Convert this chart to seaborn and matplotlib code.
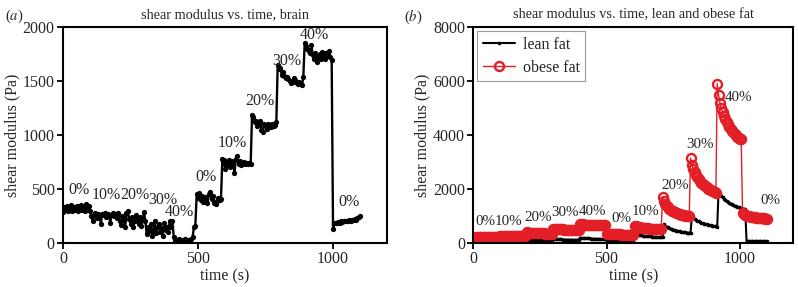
import numpy as np
import pandas as pd
import matplotlib
matplotlib.use("Agg")
import matplotlib.pyplot as plt
import seaborn as sns

# ─── Data (5 s sampling) ─────────────────────────────────────────────────────
time_s = np.arange(0, 1105, 5)

brain_pa = [
    290, 330, 310, 340, 300, 320, 350, 300, 330, 310, 340, 300, 320, 350, 310, 330, 300, 360, 320, 340,
    300, 250, 200, 260, 280, 230, 270, 250, 180, 270, 260, 280, 240, 270, 250, 190, 260, 280, 250, 270,
    230, 280, 200, 170, 250, 210, 150, 280, 300, 220, 180, 240, 150, 200, 260, 220, 180, 240, 160, 210,
    290, 200, 80, 150, 110, 180, 70, 120, 200, 90, 150, 180, 100, 140, 70, 190, 120, 150, 100, 200,
    150, 200, 60, 20, 0, 30, 40, 10, 30, 20, 40, 0, 30, 20, 10, 40, 60, 150, 160, 450,
    420, 460, 400, 440, 380, 430, 420, 370, 450, 470, 410, 440, 370, 360, 390, 420, 400, 410, 780, 770,
    690, 750, 720, 770, 700, 760, 740, 650, 780, 810, 730, 760, 720, 740, 750, 730, 740, 730, 740, 730,
    1190, 1170, 1120, 1130, 1080, 1110, 1130, 1050, 1030, 1100, 1080, 1060, 1100, 1090, 1070, 1100, 1080, 1090, 1120, 1650,
    1610, 1620, 1560, 1580, 1550, 1530, 1540, 1520, 1500, 1480, 1490, 1530, 1510, 1480, 1470, 1490, 1470, 1460, 1540, 1850,
    1820, 1800, 1780, 1760, 1830, 1740, 1700, 1760, 1680, 1720, 1750, 1700, 1770, 1720, 1700, 1760, 1730, 1780, 1720, 1690,
    130, 190, 190, 190, 195, 190, 200, 195, 200, 200, 205, 200, 210, 205, 210, 215, 220, 210, 230, 240,
    250,
]

lean_pa = [
    50, 50, 55, 50, 55, 55, 60, 55, 60, 60, 60, 65, 60, 65, 65, 65, 70, 70, 70, 70,
    70, 75, 75, 75, 80, 80, 80, 80, 85, 85, 85, 85, 90, 90, 90, 90, 90, 95, 95, 95,
    130, 120, 120, 115, 115, 115, 110, 110, 110, 110, 105, 105, 105, 105, 105, 100, 100, 100, 100, 100,
    160, 150, 145, 140, 140, 135, 135, 130, 130, 130, 130, 125, 125, 125, 125, 120, 120, 120, 120, 120,
    200, 190, 185, 180, 175, 175, 170, 170, 165, 165, 160, 160, 160, 155, 155, 155, 150, 150, 150, 150,
    90, 85, 85, 80, 80, 80, 80, 75, 75, 75, 75, 75, 75, 70, 70, 70, 70, 70, 70, 70,
    70, 360, 340, 320, 310, 300, 290, 280, 270, 265, 260, 255, 250, 245, 240, 235, 230, 230, 225, 220,
    220, 215, 215, 700, 650, 610, 580, 550, 530, 510, 490, 475, 460, 450, 440, 430, 420, 410, 400, 395,
    390, 385, 380, 375, 1000, 950, 900, 860, 830, 800, 780, 760, 740, 720, 700, 690, 680, 670, 660, 650,
    640, 630, 620, 610, 1900, 1800, 1740, 1690, 1640, 1600, 1560, 1520, 1490, 1460, 1430, 1400, 1380, 1360, 1340, 1320,
    1300, 1290, 1280, 1270, 1260, 80, 75, 75, 75, 70, 70, 70, 70, 70, 70, 70, 70, 70, 70, 70,
    70,
]

obese_pa = [
    200, 205, 210, 210, 215, 215, 220, 220, 225, 225, 225, 230, 230, 230, 235, 235, 235, 240, 240, 240,
    245, 245, 250, 250, 250, 255, 255, 255, 260, 260, 265, 265, 265, 270, 270, 270, 275, 275, 280, 280,
    400, 390, 380, 375, 370, 370, 365, 365, 360, 360, 360, 355, 355, 355, 350, 350, 350, 350, 345, 345,
    540, 530, 520, 515, 510, 510, 505, 505, 500, 500, 500, 500, 495, 495, 495, 495, 490, 490, 490, 490,
    720, 700, 690, 685, 680, 680, 675, 675, 670, 670, 670, 665, 665, 665, 660, 660, 660, 660, 655, 655,
    350, 340, 335, 330, 330, 325, 325, 320, 320, 320, 320, 315, 315, 315, 315, 310, 310, 310, 310, 310,
    310, 650, 620, 600, 590, 580, 570, 565, 560, 555, 550, 545, 540, 540, 535, 530, 530, 525, 520, 520,
    520, 520, 1700, 1550, 1450, 1380, 1320, 1270, 1230, 1200, 1170, 1140, 1120, 1100, 1080, 1060, 1050, 1040, 1030, 1020,
    1010, 1000, 990, 3150, 2900, 2750, 2620, 2520, 2440, 2370, 2300, 2240, 2190, 2140, 2100, 2060, 2020, 1990, 1960, 1930,
    1910, 1890, 1870, 5900, 5500, 5200, 5000, 4850, 4700, 4580, 4480, 4390, 4300, 4230, 4160, 4100, 4040, 3990, 3940, 3900,
    3870, 3850, 1100, 1060, 1040, 1020, 1000, 990, 980, 970, 960, 950, 945, 940, 935, 930, 925, 920, 915, 910,
    905,
]

# strain labels: (text, time, modulus)
brain_labels = [
    ("0%", 60, 494), ("10%", 160, 448), ("20%", 266, 448), ("30%", 370, 401),
    ("40%", 432, 287), ("0%", 530, 611), ("10%", 628, 926), ("20%", 729, 1315),
    ("30%", 827, 1682), ("40%", 931, 1929), ("0%", 1058, 380),
]
fat_labels = [
    ("0%", 44, 802), ("10%", 133, 815), ("20%", 242, 938), ("30%", 346, 1123),
    ("40%", 449, 1185), ("0%", 556, 901), ("10%", 646, 1185), ("20%", 758, 2136),
    ("30%", 851, 3654), ("40%", 994, 5407), ("0%", 1114, 1580),
]

RED = "#e41e26"
FS = 11.5

# ─── Style ───────────────────────────────────────────────────────────────────
sns.set_style("ticks")
plt.rcParams["font.family"] = ["Liberation Serif", "DejaVu Serif"]
plt.rcParams["mathtext.fontset"] = "stix"

fig = plt.figure(figsize=(7.98, 2.87), dpi=100)
ax_a = fig.add_axes([0.079, 0.153, 0.406, 0.753])
ax_b = fig.add_axes([0.593, 0.153, 0.401, 0.753])

brain = pd.DataFrame({"time": time_s, "G": brain_pa})
fat = pd.DataFrame({"time": time_s, "lean": lean_pa, "obese": obese_pa})

# ─── (a) brain ───────────────────────────────────────────────────────────────
sns.lineplot(data=brain, x="time", y="G", ax=ax_a, color="black", lw=1.7,
             marker="o", markersize=3.8, markeredgewidth=0, estimator=None)
for txt, x, y in brain_labels:
    ax_a.text(x, y, txt, ha="center", va="center", fontsize=FS)
ax_a.set_xlim(0, 1200)
ax_a.set_ylim(0, 2000)
ax_a.set_xticks([0, 500, 1000])
ax_a.set_yticks([0, 500, 1000, 1500, 2000])
ax_a.set_title("shear modulus vs. time, brain", fontsize=10.3, pad=6)
ax_a.set_xlabel("time (s)", fontsize=FS, labelpad=1)
ax_a.set_ylabel("shear modulus (Pa)", fontsize=FS, labelpad=2)

# ─── (b) fat ─────────────────────────────────────────────────────────────────
sns.lineplot(data=fat, x="time", y="lean", ax=ax_b, color="black", lw=1.5,
             marker="o", markersize=2.6, markeredgewidth=0, estimator=None,
             label="lean fat")
sns.lineplot(data=fat, x="time", y="obese", ax=ax_b, color=RED, lw=1.0,
             marker="o", markersize=6.5, markerfacecolor="none",
             markeredgecolor=RED, markeredgewidth=1.7, estimator=None,
             label="obese fat")
for txt, x, y in fat_labels:
    ax_b.text(x, y, txt, ha="center", va="center", fontsize=10.8)
ax_b.set_xlim(0, 1200)
ax_b.set_ylim(0, 8000)
ax_b.set_xticks([0, 500, 1000])
ax_b.set_yticks([0, 2000, 4000, 6000, 8000])
ax_b.set_title("shear modulus vs. time, lean and obese fat", fontsize=10.3, pad=6)
ax_b.set_xlabel("time (s)", fontsize=FS, labelpad=1)
ax_b.set_ylabel("shear modulus (Pa)", fontsize=FS, labelpad=2)
leg = ax_b.legend(loc="upper left", fontsize=FS, fancybox=False, framealpha=1,
                  edgecolor="#999999", borderaxespad=0.25, handlelength=2.0,
                  borderpad=0.35, labelspacing=0.45, handletextpad=0.5)
leg.get_frame().set_linewidth(0.8)

for ax in (ax_a, ax_b):
    for s in ax.spines.values():
        s.set_linewidth(1.5)
        s.set_color("black")
    ax.tick_params(width=1.3, length=4, labelsize=FS, pad=2, color="black")

fig.text(0.006, 0.975, "($a$)", fontsize=10.5, va="top")
fig.text(0.506, 0.975, "($b$)", fontsize=10.5, va="top")

fig.savefig("out.png", dpi=100)
